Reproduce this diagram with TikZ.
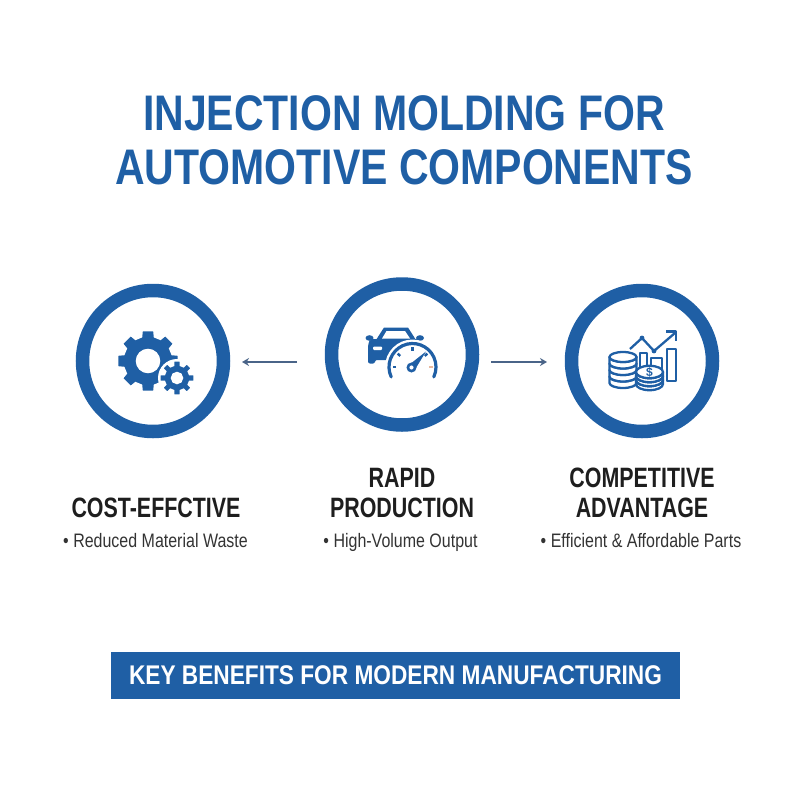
\documentclass[tikz,border=0pt]{standalone}
\usepackage{fontspec}
\setmainfont{Liberation Sans}
\definecolor{moldblue}{HTML}{1F5FA5}
\definecolor{arrowblue}{HTML}{4A6488}
\definecolor{headgray}{HTML}{1E1E1E}
\definecolor{subgray}{HTML}{333333}
\definecolor{tickorange}{HTML}{E8B9A0}
\tikzset{
    ring/.style={circle, draw=moldblue, line width=13.5pt, minimum size=141pt, inner sep=0pt},
    titletext/.style={align=center, text=moldblue, font=\fontsize{50}{54}\selectfont\bfseries, xscale=0.82, transform shape, inner sep=0pt},
    headtext/.style={align=center, text=headgray, font=\fontsize{28}{30}\selectfont\bfseries, xscale=0.765, transform shape, inner sep=0pt},
    subtext/.style={anchor=base, text=subgray, font=\fontsize{19.5}{20}\selectfont, xscale=0.82, transform shape, inner sep=0pt},
    bannertext/.style={text=white, font=\fontsize{27}{30}\selectfont\bfseries, xscale=0.84, transform shape, inner sep=0pt},
    flow/.style={arrowblue, line width=1.3pt, -{Stealth[length=7pt,width=8pt]}},
    iconline/.style={draw=moldblue, line width=2.3pt, line join=round},
}
\usetikzlibrary{arrows.meta}
% r_root r_tip r_hole
\newcommand{\gearicon}[3]{
    \filldraw [draw=white, line width=1.5pt, fill=moldblue, even odd rule]
        (-15:#1) -- (-11:#2) -- (11:#2) -- (15:#1)
        foreach \a in {45,90,...,315} { -- (\a-15:#1) -- (\a-11:#2) -- (\a+11:#2) -- (\a+15:#1) } -- cycle
        (0,0) circle (#3);
}
% x, top y, x radius, y radius, layer height, number of layers
\newcommand{\coinstack}[6]{
    \foreach \i in {#6,...,1} {
        \pgfmathsetmacro{\yy}{#2+(\i-1)*#5}
        \filldraw [iconline, fill=white] (#1-#3, \yy) -- ++(0, #5) arc (180:0:#3 and #4) -- ++(0, -#5) arc (0:180:#3 and #4) -- cycle;
    }
    \filldraw [iconline, fill=white] (#1, #2) ellipse (#3 and #4);
}
\begin{document}
\begin{tikzpicture}[x=1pt, y=-1pt]
    \useasboundingbox (0, 0) rectangle (800, 800);

    \node [titletext] (title) at (404, 140) {INJECTION MOLDING FOR\\AUTOMOTIVE COMPONENTS};

    \node [ring] (cost) at (153, 361) {};
    \node [ring] (rapid) at (402, 354.5) {};
    \node [ring] (advantage) at (642, 361) {};

    \coordinate (leftstart) at (297, 362);
    \coordinate (leftend) at (242, 362);
    \coordinate (rightstart) at (491, 362);
    \coordinate (rightend) at (547, 362);
    \draw [flow] (leftstart) -- (leftend);
    \draw [flow] (rightstart) -- (rightend);

    % gears
    \begin{scope}[shift={(148, 361)}]
        \gearicon{25}{31}{11.5}
    \end{scope}
    \begin{scope}[shift={(177, 378)}]
        \fill [white] (0, 0) circle (19);
        \gearicon{13}{17.5}{5.5}
    \end{scope}

    % car and gauge
    \fill [moldblue] (376, 340) -- (384, 327.5) -- (408, 327.5) -- (416, 340) -- cycle;
    \fill [white] (382, 338.5) -- (386.5, 331) -- (405, 331) -- (410, 338.5) -- cycle;
    \fill [moldblue, rounded corners=2pt] (370, 339) -- (420, 339) -- (420, 360) -- (375, 360) -- (375, 363.5) -- (368, 363.5) -- (368, 345) -- cycle;
    \fill [moldblue] (369.5, 338) ellipse (4 and 2.8);
    \fill [moldblue] (420, 338) ellipse (4 and 2.8);
    \fill [white, rounded corners=1pt] (373, 346.5) rectangle (382, 350);
    \fill [white] (412.5, 367) circle (27.5);
    \draw [moldblue, line width=3.2pt, line cap=round] (412.5, 367) ++(155:23.5) arc (155:385:23.5);
    \foreach \t in {180, 222, 270, 318} {
        \draw [moldblue, line width=2.4pt] (412.5, 367) ++(\t:16.5) -- ++(\t:3.5);
    }
    \draw [tickorange, line width=2.4pt] (412.5, 367) ++(0:16.5) -- ++(0:3.5);
    \fill [moldblue] (409.5, 364.5) -- (426, 351.5) -- (415, 369.5) -- cycle;
    \filldraw [draw=moldblue, line width=2.6pt, fill=white] (411.5, 367.5) circle (3.6);

    % chart and coins
    \draw [iconline] (640, 376) |- (647, 353) -- (647, 376);
    \draw [iconline] (651, 376) |- (662, 358) -- (662, 376);
    \draw [iconline] (667, 349) rectangle (676, 381);
    \draw [iconline] (630, 349) -- (642, 338) -- (654, 351) -- (675, 333);
    \draw [iconline] (666, 331.5) -- (676, 331.5) -- (676, 341);
    \fill [moldblue] (642, 338) circle (2.4);
    \fill [moldblue] (654, 351) circle (2.4);
    \coinstack{623}{357}{13.5}{5}{6.5}{4}
    \coinstack{649.5}{372}{13.5}{6.2}{4}{3}
    \node [text=moldblue, font=\fontsize{12}{12}\selectfont\bfseries, inner sep=0pt] (dollar) at (649.5, 372) {\$};

    % labels
    \node [headtext] (costhead) at (156, 508) {COST-EFFCTIVE};
    \node [headtext] (rapidhead) at (402, 493) {RAPID\\PRODUCTION};
    \node [headtext] (advantagehead) at (642, 493) {COMPETITIVE\\ADVANTAGE};
    \node [subtext] (costsub) at (155.5, 547) {• Reduced Material Waste};
    \node [subtext] (rapidsub) at (400.5, 547) {• High-Volume Output};
    \node [subtext] (advantagesub) at (641, 547) {• Efficient \& Affordable Parts};

    \node [fill=moldblue, minimum width=569pt, minimum height=47pt, inner sep=0pt] (banner) at (395.5, 675.5) {};
    \node [bannertext] (bannerlabel) at (395.5, 675.5) {KEY BENEFITS FOR MODERN MANUFACTURING};
\end{tikzpicture}
\end{document}
